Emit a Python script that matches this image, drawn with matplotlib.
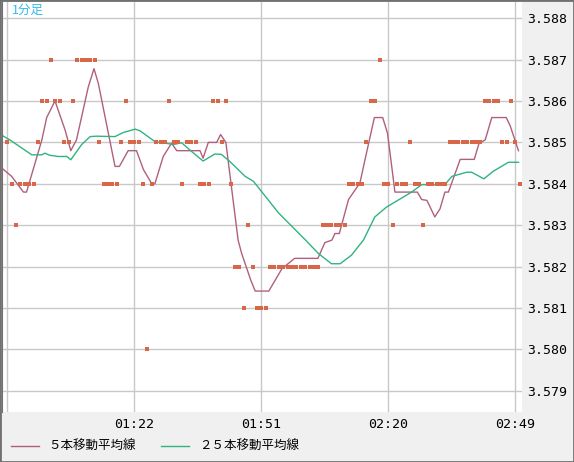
import matplotlib
matplotlib.use("Agg")
import matplotlib.pyplot as plt
import numpy as np

plt.rcParams['font.family'] = ['Noto Sans CJK JP', 'DejaVu Sans']

# close price per minute, 00:53 .. 02:50
close = [3.585, 3.584, 3.583, 3.584, 3.584, 3.584, 3.584, 3.585, 3.586, 3.586,
         3.587, 3.586, 3.586, 3.585, 3.585, 3.586, 3.587, 3.587, 3.587, 3.587,
         3.587, 3.585, 3.584, 3.584, 3.584, 3.584, 3.585, 3.586, 3.585, 3.585,
         3.585, 3.584, 3.580, 3.584, 3.585, 3.585, 3.585, 3.586, 3.585, 3.585,
         3.584, 3.585, 3.585, 3.585, 3.584, 3.584, 3.584, 3.586, 3.586, 3.585,
         3.586, 3.584, 3.582, 3.582, 3.581, 3.583, 3.582, 3.581, 3.581, 3.581,
         3.582, 3.582, 3.582, 3.582, 3.582, 3.582, 3.582, 3.582, 3.582, 3.582,
         3.582, 3.582, 3.583, 3.583, 3.583, 3.583, 3.583, 3.583, 3.584, 3.584,
         3.584, 3.584, 3.585, 3.586, 3.586, 3.587, 3.584, 3.584, 3.583, 3.584,
         3.584, 3.584, 3.585, 3.584, 3.584, 3.583, 3.584, 3.584, 3.584, 3.584,
         3.584, 3.585, 3.585, 3.585, 3.585, 3.585, 3.585, 3.585, 3.585, 3.586,
         3.586, 3.586, 3.586, 3.585, 3.585, 3.586, 3.585, 3.584]

ma5_t = [-1.7, 1.0, 3.7, 4.4, 7.9, 9.0, 10.9, 13.2, 14.5, 15.8, 18.5, 19.8, 20.8,
         24.6, 25.6, 27.6, 29.5, 31.1, 33.0, 33.7, 35.6, 37.5, 38.7, 44.0, 44.7,
         45.9, 47.8, 48.7, 49.9, 52.7, 53.5, 55.6, 56.6, 59.7, 62.7, 65.6, 70.9,
         72.5, 74.1, 74.8, 75.8, 77.9, 80.5, 81.7, 83.8, 85.7, 86.8, 88.5, 93.6,
         94.6, 95.8, 97.6, 98.8, 99.9, 100.7, 103.4, 106.6, 107.7, 109.1, 110.6,
         113.9, 114.8, 116.7]
ma5_v = [3.58442, 3.58418, 3.5838, 3.5838, 3.58506, 3.5856, 3.5860, 3.5853, 3.5848,
         3.58506, 3.58634, 3.58678, 3.58642, 3.58442, 3.58442, 3.5848, 3.5848,
         3.58434, 3.5840, 3.5840, 3.58466, 3.58498, 3.5848, 3.5848, 3.58462, 3.585,
         3.585, 3.58519, 3.585, 3.58264, 3.58232, 3.58167, 3.58141, 3.58141,
         3.58195, 3.5822, 3.5822, 3.58258, 3.58264, 3.5828, 3.5828, 3.58362,
         3.58402, 3.5846, 3.5856, 3.5856, 3.58522, 3.5838, 3.5838, 3.58362, 3.5836,
         3.5832, 3.5834, 3.5838, 3.5838, 3.58459, 3.58459, 3.58498, 3.58506,
         3.5856, 3.5856, 3.5854, 3.5848]

ma25_t = [-1.7, 0.6, 5.6, 7.9, 8.6, 9.7, 11.6, 13.6, 14.5, 17.0, 18.9, 20.4, 24.6,
          26.5, 29.2, 30.3, 33.7, 37.9, 39.8, 42.1, 44.7, 47.4, 48.9, 50.8, 54.3,
          56.2, 61.9, 68.1, 71.0, 74.0, 76.0, 78.6, 81.3, 83.9, 86.6, 92.3, 94.6,
          99.9, 101.5, 104.9, 106.0, 108.8, 110.9, 114.4, 116.7]
ma25_v = [3.5852, 3.58506, 3.5847, 3.5847, 3.58474, 3.58469, 3.58466, 3.58466,
          3.58458, 3.58495, 3.58514, 3.58515, 3.58514, 3.58524, 3.58532, 3.58528,
          3.58502, 3.58495, 3.58499, 3.58478, 3.58455, 3.58472, 3.58471, 3.58454,
          3.58418, 3.58406, 3.5833, 3.58264, 3.58232, 3.58207, 3.58207, 3.58228,
          3.58264, 3.5832, 3.58344, 3.5838, 3.58398, 3.58398, 3.58418, 3.58428,
          3.58428, 3.58412, 3.5843, 3.58452, 3.58452]

tick_pos = [0, 29, 58, 87, 116]
tick_lab = ['', '01:22', '01:51', '02:20', '02:49']
y_ticks = [3.579, 3.580, 3.581, 3.582, 3.583, 3.584, 3.585, 3.586, 3.587, 3.588]

fig = plt.figure(figsize=(5.74, 4.62), dpi=100, facecolor='#f0f0f0')
fig.patches.append(plt.Rectangle((0, 0), 1, 1, transform=fig.transFigure,
                                 fill=False, edgecolor='#707070', lw=2))
ax = fig.add_axes([2/574, 50/462, 520/574, 410/462])
ax.set_facecolor('white')

ax.plot(range(len(close)), close, 's', color='#d8674a', ms=2.6, mew=0, zorder=3)
ma5_line, = ax.plot(ma5_t, ma5_v, color='#b0607e', lw=1.0)
ma25_line, = ax.plot(ma25_t, ma25_v, color='#2fb47e', lw=1.0)

ax.set_xlim(-1.2, 117.5)
ax.set_ylim(3.57849, 3.58839)
ax.set_xticks(tick_pos)
ax.set_xticklabels(tick_lab)
ax.set_yticks(y_ticks)
ax.set_yticklabels([f'{v:.3f}' for v in y_ticks])
ax.yaxis.tick_right()
ax.grid(True, color='#c8c8c8', lw=1)
ax.tick_params(length=0, labelsize=9.5, pad=4)
for lab in ax.get_xticklabels() + ax.get_yticklabels():
    lab.set_family('DejaVu Sans Mono')
for s in ax.spines.values():
    s.set_visible(False)
ax.spines['left'].set_visible(True)
ax.spines['left'].set_color('#707070')

ax.text(0.02, 0.995, '1分足', transform=ax.transAxes, color='#33bbee',
        fontsize=9, va='top', ha='left')

fig.legend([ma5_line, ma25_line], ['５本移動平均線', '２５本移動平均線'],
           loc='lower left', bbox_to_anchor=(0.0, -0.005), ncol=2, frameon=False,
           fontsize=9, handlelength=2.2, columnspacing=2.0)

fig.savefig('out.png', dpi=100, facecolor=fig.get_facecolor())
